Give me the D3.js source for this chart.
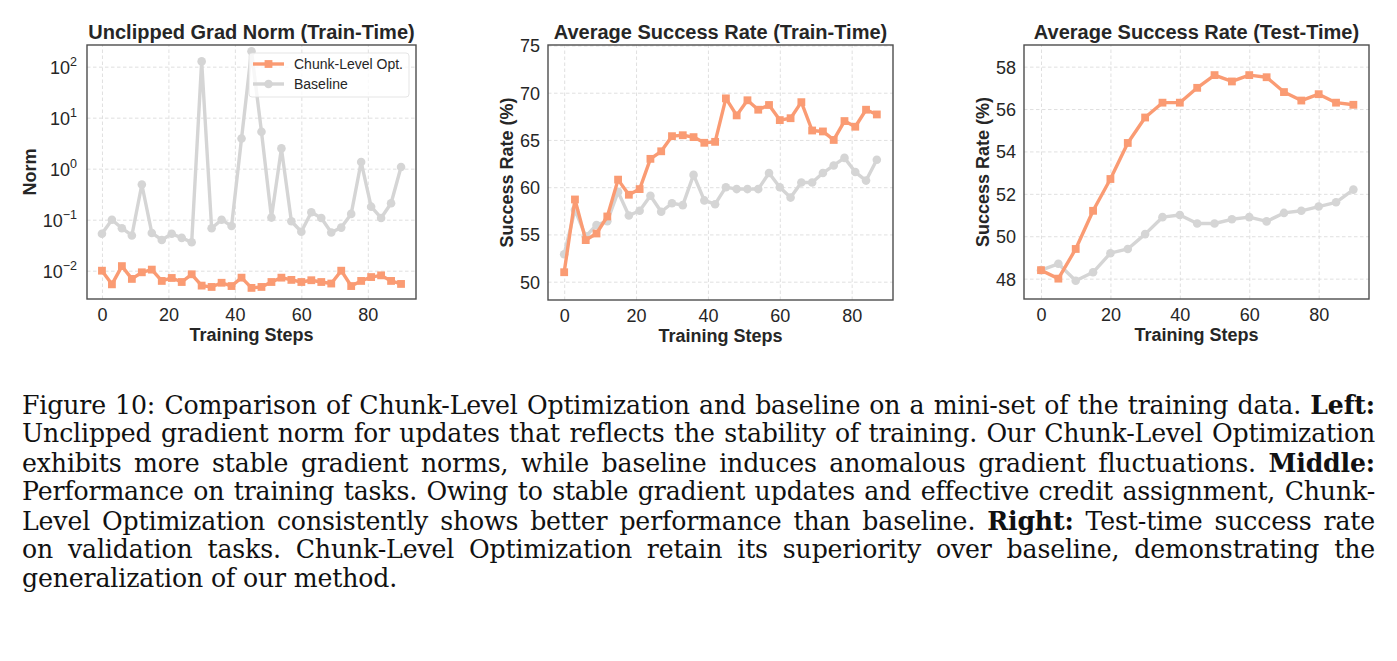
<!DOCTYPE html>
<html>
<head>
<meta charset="utf-8">
<script src="https://cdn.jsdelivr.net/npm/d3@7"></script>
<style>
  body { margin: 0; background: #fff; }
  #wrap { position: relative; width: 1397px; height: 661px; overflow: hidden; }
  svg { position: absolute; left: 0; top: 0; }
  .cap { position: absolute; left: 22px; width: 1353px; font-family: "DejaVu Serif", "Liberation Serif", serif;
         font-size: 25.2px; line-height: 28.9px; color: #111; text-align: justify; text-align-last: justify;
         white-space: nowrap; letter-spacing: -0.15px; }
  .cap.last { text-align-last: left; }
  .cap b { font-weight: bold; }
</style>
</head>
<body>
<div id="wrap">
<svg id="chart" width="1397" height="661"></svg>
<div id="caption"></div>
</div>
<script>
// ---- data ----
let gradSteps=[0,3,6,9,12,15,18,21,24,27,30,33,36,39,42,45,48,51,54,57,60,63,66,69,72,75,78,81,84,87,90]
let gradChunk=[0.010,0.0054,0.0123,0.0069,0.0093,0.0105,0.0063,0.0072,0.0060,0.0085,0.0051,0.0048,0.0058,0.0050,0.0073,0.0046,0.0048,0.0060,0.0073,0.0066,0.0060,0.0065,0.0060,0.0056,0.0100,0.0050,0.0063,0.0075,0.0081,0.0063,0.0055]
let gradBase=[0.053,0.100,0.068,0.049,0.49,0.055,0.040,0.053,0.044,0.036,127,0.068,0.100,0.075,3.9,200,5.3,0.11,2.5,0.093,0.058,0.14,0.108,0.056,0.070,0.13,1.35,0.18,0.108,0.21,1.08]

let trainSteps=[0,3,6,9,12,15,18,21,24,27,30,33,36,39,42,45,48,51,54,57,60,63,66,69,72,75,78,81,84,87]
let trainChunk=[51.0,58.7,54.4,55.1,56.9,60.8,59.2,59.8,63.0,63.8,65.4,65.5,65.3,64.7,64.8,69.4,67.6,69.2,68.2,68.7,67.1,67.3,69.0,66.0,65.9,65.0,67.0,66.4,68.2,67.7]
let trainBase=[52.9,57.6,54.8,56.0,56.4,59.5,57.0,57.5,59.1,57.4,58.3,58.1,61.3,58.6,58.2,60.0,59.8,59.8,59.8,61.5,60.0,58.9,60.5,60.5,61.5,62.3,63.1,61.6,60.7,62.9]

let testSteps=[0,5,10,15,20,25,30,35,40,45,50,55,60,65,70,75,80,85,90]
let testChunk=[48.4,48.0,49.4,51.2,52.7,54.4,55.6,56.3,56.3,57.0,57.6,57.3,57.6,57.5,56.8,56.4,56.7,56.3,56.2]
let testBase=[48.4,48.7,47.9,48.3,49.2,49.4,50.1,50.9,51.0,50.6,50.6,50.8,50.9,50.7,51.1,51.2,51.4,51.6,52.2]

let stepTicks=[0,20,40,60,80]
let gradTicks=[0.01,0.1,1,10,100]
let trainTicks=[50,55,60,65,70,75]
let testTicks=[48,50,52,54,56,58]

let chunkColor='#FA9B73'
let baseColor='#D5D5D5'
let textColor='#262626'
let font='"Liberation Sans", Arial, sans-serif'

let svg=d3.select('#chart')

let drawPanel=(p)=>{
    let g=svg.append('g').attr('transform','translate('+p.left+','+p.top+')')
    let x=d3.scaleLinear().domain(p.xDomain).range([0,p.width])
    let y=(p.log ? d3.scaleLog() : d3.scaleLinear()).domain(p.yDomain).range([p.height,0])

    // grid
    g.append('g').attr('transform','translate(0,'+p.height+')')
     .call(d3.axisBottom(x).tickValues(stepTicks).tickSize(-p.height).tickFormat(''))
     .call(a=>a.select('.domain').remove())
     .selectAll('line').attr('stroke','#dcdcdc').attr('stroke-width',0.9).attr('stroke-dasharray','3.5,2.5')
    g.append('g')
     .call(d3.axisLeft(y).tickValues(p.yTicks).tickSize(-p.width).tickFormat(''))
     .call(a=>a.select('.domain').remove())
     .selectAll('line').attr('stroke','#dcdcdc').attr('stroke-width',0.9).attr('stroke-dasharray','3.5,2.5')

    // lines + markers, baseline under chunk-level
    let line=(xs)=>d3.line().x((d,i)=>x(xs[i])).y(d=>y(d))
    g.append('path').datum(p.base).attr('d',line(p.steps)).attr('fill','none')
     .attr('stroke',baseColor).attr('stroke-width',3.4).attr('stroke-linejoin','round')
    g.selectAll('.bdot').data(p.base).enter().append('circle').attr('class','bdot')
     .attr('cx',(d,i)=>x(p.steps[i])).attr('cy',d=>y(d)).attr('r',4.3).attr('fill',baseColor)
    g.append('path').datum(p.chunk).attr('d',line(p.steps)).attr('fill','none')
     .attr('stroke',chunkColor).attr('stroke-width',3.4).attr('stroke-linejoin','round')
    g.selectAll('.cdot').data(p.chunk).enter().append('rect').attr('class','cdot')
     .attr('x',(d,i)=>x(p.steps[i])-3.9).attr('y',d=>y(d)-3.9).attr('width',7.8).attr('height',7.8).attr('fill',chunkColor)

    // spines
    g.append('rect').attr('width',p.width).attr('height',p.height).attr('fill','none')
     .attr('stroke','#4d4d4d').attr('stroke-width',1.4)

    // axes text
    let xa=g.append('g').attr('transform','translate(0,'+p.height+')')
     .call(d3.axisBottom(x).tickValues(stepTicks).tickSize(0).tickPadding(8))
    xa.select('.domain').remove()
    xa.selectAll('text').attr('font-family',font).attr('font-size',18).attr('fill',textColor).attr('dy','0.8em')

    let ya=g.append('g')
     .call(d3.axisLeft(y).tickValues(p.yTicks).tickSize(0).tickPadding(p.log ? 10 : 8).tickFormat(d=>p.log ? '' : d))
    ya.select('.domain').remove()
    ya.selectAll('text').attr('font-family',font).attr('font-size',18).attr('fill',textColor).attr('dy','0.36em')
    if(p.log){
        ya.selectAll('text').each(function(d){
            let t=d3.select(this)
            t.append('tspan').text('10')
            t.append('tspan').attr('dy','-0.6em').attr('font-size',12.5).text(String(Math.round(Math.log10(d))).replace('-','\u2212'))
        })
    }

    g.append('text').attr('x',p.width/2).attr('y',-6).attr('text-anchor','middle')
     .attr('font-family',font).attr('font-weight','bold').attr('font-size',20).attr('fill',textColor).text(p.title)
    g.append('text').attr('x',p.width/2).attr('y',p.height+42).attr('text-anchor','middle')
     .attr('font-family',font).attr('font-weight','bold').attr('font-size',18).attr('fill',textColor).text('Training Steps')
    g.append('text').attr('transform','translate('+(p.ylabX)+','+(p.height/2)+') rotate(-90)')
     .attr('text-anchor','middle').attr('dy','0.35em')
     .attr('font-family',font).attr('font-weight','bold').attr('font-size',18).attr('fill',textColor).text(p.ylab)

    if(p.legend){
        let lg=g.append('g').attr('transform','translate('+(p.width-167)+',8)')
        lg.append('rect').attr('width',160).attr('height',44).attr('rx',3)
          .attr('fill','#fff').attr('fill-opacity',0.8).attr('stroke','#dedede').attr('stroke-width',0.8)
        let items=[{name:'Chunk-Level Opt.',color:chunkColor,sq:true},{name:'Baseline',color:baseColor,sq:false}]
        items.forEach((it,i)=>{
            let yy=11+i*20
            lg.append('line').attr('x1',4).attr('x2',35).attr('y1',yy).attr('y2',yy)
              .attr('stroke',it.color).attr('stroke-width',3.4)
            if(it.sq){
                lg.append('rect').attr('x',19.5-3.9).attr('y',yy-3.9).attr('width',7.8).attr('height',7.8).attr('fill',it.color)
            } else {
                lg.append('circle').attr('cx',19.5).attr('cy',yy).attr('r',4.3).attr('fill',it.color)
            }
            lg.append('text').attr('x',45).attr('y',yy).attr('dy','0.35em')
              .attr('font-family',font).attr('font-size',14).attr('fill',textColor).text(it.name)
        })
    }
}

drawPanel({left:87,top:45,width:329,height:254,xDomain:[-4.5,94.5],yDomain:[Math.pow(10,-2.555),Math.pow(10,2.425)],log:true,
    yTicks:gradTicks,steps:gradSteps,chunk:gradChunk,base:gradBase,
    title:'Unclipped Grad Norm (Train-Time)',ylab:'Norm',ylabX:-57,legend:true})
drawPanel({left:548,top:45,width:345,height:255,xDomain:[-4.5,91.5],yDomain:[48.06,75.05],log:false,
    yTicks:trainTicks,steps:trainSteps,chunk:trainChunk,base:trainBase,
    title:'Average Success Rate (Train-Time)',ylab:'Success Rate (%)',ylabX:-41,legend:false})
drawPanel({left:1024,top:45,width:345,height:254,xDomain:[-4.9,94.5],yDomain:[47.04,59.02],log:false,
    yTicks:testTicks,steps:testSteps,chunk:testChunk,base:testBase,
    title:'Average Success Rate (Test-Time)',ylab:'Success Rate (%)',ylabX:-41,legend:false})

// caption
let capLines=[
  'Figure 10: Comparison of Chunk-Level Optimization and baseline on a mini-set of the training data. <b>Left:</b>',
  'Unclipped gradient norm for updates that reflects the stability of training. Our Chunk-Level Optimization',
  'exhibits more stable gradient norms, while baseline induces anomalous gradient fluctuations. <b>Middle:</b>',
  'Performance on training tasks. Owing to stable gradient updates and effective credit assignment, Chunk-',
  'Level Optimization consistently shows better performance than baseline. <b>Right:</b> Test-time success rate',
  'on validation tasks. Chunk-Level Optimization retain its superiority over baseline, demonstrating the',
  'generalization of our method.'
]
d3.select('#caption').selectAll('div').data(capLines).enter().append('div')
  .attr('class',(d,i)=>i==capLines.length-1 ? 'cap last' : 'cap')
  .style('top',(d,i)=>(391.4+i*28.9)+'px')
  .html(d=>d)
</script>
</body>
</html>
